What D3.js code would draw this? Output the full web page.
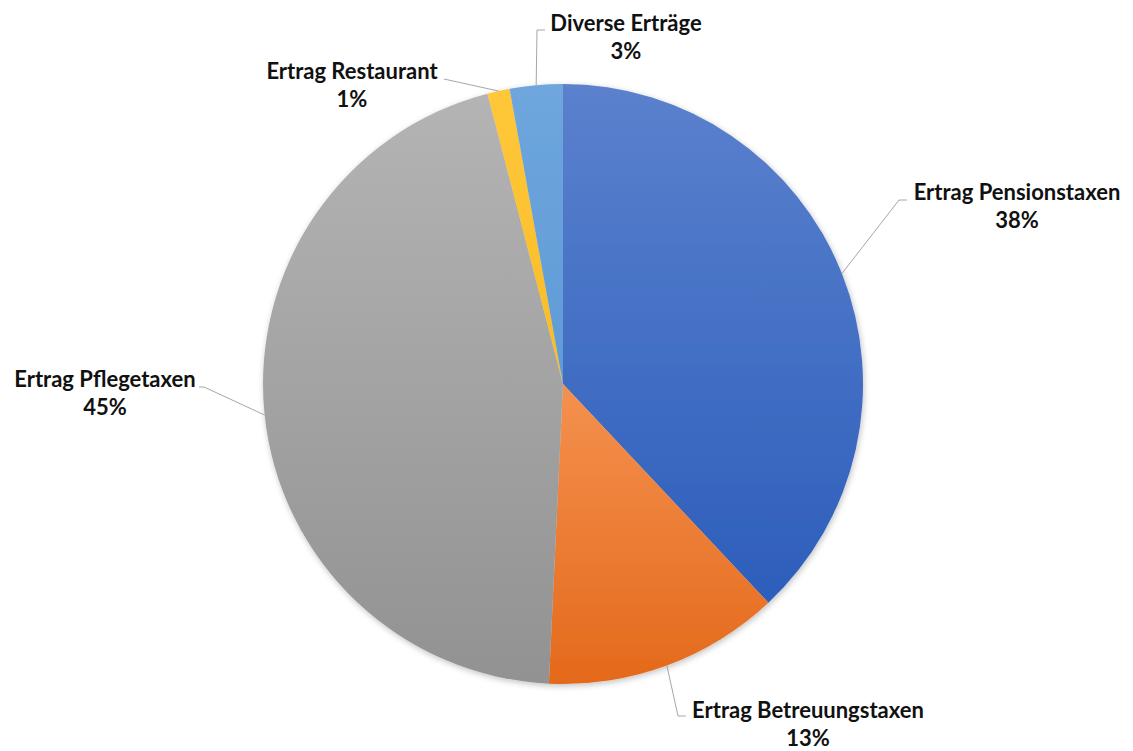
<!DOCTYPE html>
<html>
<head>
<meta charset="utf-8">
<script src="https://cdn.jsdelivr.net/npm/d3@7"></script>
<style>
  html, body { margin: 0; padding: 0; background: #fff; }
  svg { display: block; }
</style>
</head>
<body>
<svg id="chart" width="1133" height="751"></svg>
<script>
// slice values (percent of total), clockwise from 12 o'clock
const categories = [
  "Ertrag Pensionstaxen",
  "Ertrag Betreuungstaxen",
  "Ertrag Pflegetaxen",
  "Ertrag Restaurant",
  "Diverse Erträge"
];
const values = [38.0, 12.75, 45.2, 1.2, 2.85];
const pctLabels = ["38%", "13%", "45%", "1%", "3%"];

// top / bottom colour of each slice gradient
const colorsTop = ["#5b81cd", "#f4914f", "#b4b4b4", "#ffc83a", "#6ea6dd"];
const colorsBottom = ["#2c5ebb", "#e4691b", "#929292", "#f8bb25", "#609bd6"];

// label placement: text centre x, first baseline y, leader elbow
const labelLayout = [
  { x: 1017, y: 200, elbow: [899, 200], end: 907 },
  { x: 808, y: 718, elbow: [678, 716], end: 686 },
  { x: 105, y: 387, elbow: [204, 387], end: 199 },
  { x: 352, y: 79, elbow: [444, 79], end: 444 },
  { x: 626, y: 31, elbow: [537, 30], end: 545 }
];

const svg = d3.select("#chart");
const cx = 563, cy = 384, radius = 300;

const data = categories.map((name, i) => ({ name, value: values[i], i }));

const pie = d3.pie()
  .value(d => d.value)
  .sort(null);

const arc = d3.arc()
  .innerRadius(0)
  .outerRadius(radius);

const arcs = pie(data);

const defs = svg.append("defs");

const grads = defs.selectAll("linearGradient")
  .data(data)
  .enter()
  .append("linearGradient")
  .attr("id", d => `grad-${ d.i }`)
  .attr("x1", 0).attr("y1", 0)
  .attr("x2", 0).attr("y2", 1);

grads.append("stop").attr("offset", "0%").attr("stop-color", d => colorsTop[d.i]);
grads.append("stop").attr("offset", "100%").attr("stop-color", d => colorsBottom[d.i]);

const shadow = defs.append("filter")
  .attr("id", "shadow")
  .attr("x", "-10%").attr("y", "-10%")
  .attr("width", "120%").attr("height", "120%");
shadow.append("feGaussianBlur").attr("in", "SourceAlpha").attr("stdDeviation", 3);
shadow.append("feOffset").attr("dx", 1).attr("dy", 2).attr("result", "blur");
shadow.append("feComponentTransfer")
  .append("feFuncA").attr("type", "linear").attr("slope", 0.25);
const merge = shadow.append("feMerge");
merge.append("feMergeNode");
merge.append("feMergeNode").attr("in", "SourceGraphic");

const g = svg.append("g")
  .attr("transform", `translate(${ cx },${ cy })`);

g.append("g")
  .attr("filter", "url(#shadow)")
  .selectAll("path")
  .data(arcs)
  .enter()
  .append("path")
  .attr("d", arc)
  .attr("fill", d => `url(#grad-${ d.data.i })`);

// leader lines from the arc edge at mid angle to the label
const edgePoint = (d) => {
  const a = (d.startAngle + d.endAngle) / 2;
  return [cx + radius * Math.sin(a), cy - radius * Math.cos(a)];
};

svg.append("g")
  .selectAll("polyline")
  .data(arcs)
  .enter()
  .append("polyline")
  .attr("points", d => {
    const l = labelLayout[d.data.i];
    const p = edgePoint(d);
    return [p, l.elbow, [l.end, l.elbow[1]]].map(q => q.join(",")).join(" ");
  })
  .attr("fill", "none")
  .attr("stroke", "#a6a6a6")
  .attr("stroke-width", 1);

const labels = svg.append("g")
  .selectAll("text")
  .data(arcs)
  .enter()
  .append("text")
  .attr("text-anchor", "middle")
  .style("font-family", "Lato, 'Open Sans', sans-serif")
  .style("font-weight", "bold")
  .style("font-size", "22px")
  .style("fill", "#111");

labels.append("tspan")
  .attr("x", d => labelLayout[d.data.i].x)
  .attr("y", d => labelLayout[d.data.i].y)
  .text(d => d.data.name);

labels.append("tspan")
  .attr("x", d => labelLayout[d.data.i].x)
  .attr("y", d => labelLayout[d.data.i].y + 28)
  .text(d => pctLabels[d.data.i]);
</script>
</body>
</html>
